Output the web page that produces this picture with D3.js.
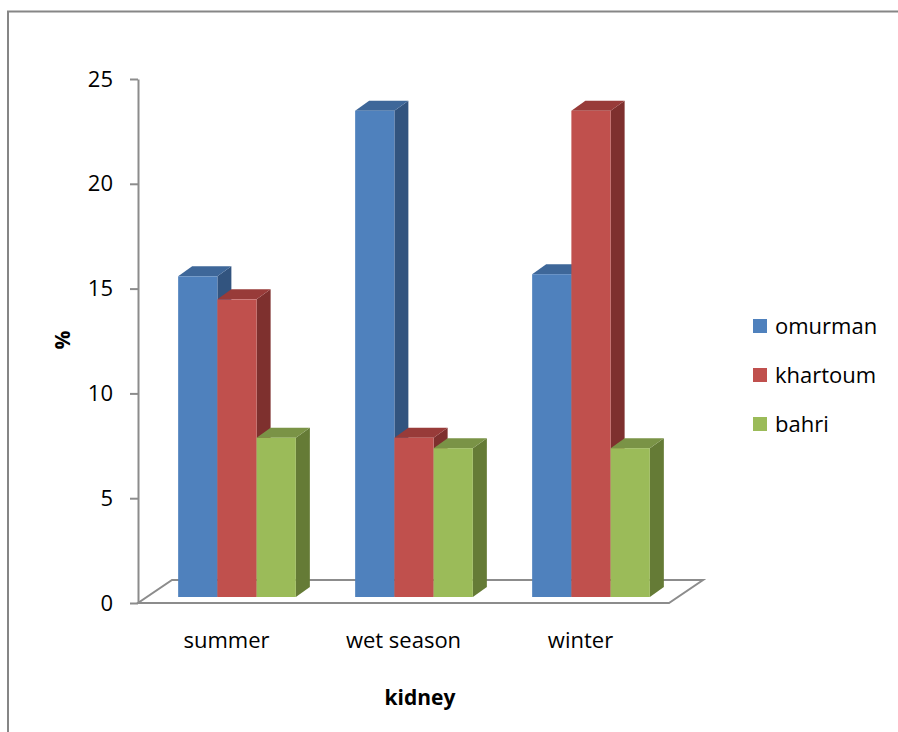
<!DOCTYPE html>
<html>
<head>
<meta charset="utf-8">
<script src="https://cdn.jsdelivr.net/npm/d3@7"></script>
<style>
  html, body { margin: 0; padding: 0; background: #fff; }
  svg { display: block; font-family: "Open Sans", "Liberation Sans", sans-serif; }
</style>
</head>
<body>
<svg id="chart" width="898" height="732"></svg>
<script>
// Seasonal prevalence (%) in kidney samples by location
const categories = ["summer", "wet season", "winter"];
const seriesNames = ["omurman", "khartoum", "bahri"];
const omurman  = [15.3, 23.2, 15.4];
const khartoum = [14.2, 7.6, 23.2];
const bahri    = [7.6, 7.1, 7.1];
const yTicks   = [0, 5, 10, 15, 20, 25];

const seriesValues = [omurman, khartoum, bahri];
const colors = {
  front: ["#4F81BD", "#C0504D", "#9BBB59"],
  top:   ["#3E6799", "#983B39", "#7A9346"],
  side:  ["#32547F", "#7E302E", "#657B36"]
};

const svg = d3.select("#chart");
const W = 898, H = 732;

svg.append("rect").attr("width", W).attr("height", H).attr("fill", "#fff");

// outer frame (top and left edges)
svg.append("path")
  .attr("d", "M8,732 L8,11.5 L898,11.5")
  .attr("fill", "none").attr("stroke", "#868686").attr("stroke-width", 2);

// front plane geometry
const plot = { left: 138, right: 669, bottom: 603, top: 79 };
const floorDepth = { dx: 34, dy: -23 };
const barOffset = { dx: 10.5, dy: -6 };   // bars sit mid-depth on the floor
const barDepth = { dx: 14, dy: -10 };

const y = d3.scaleLinear().domain([0, 25]).range([plot.bottom, plot.top]);
const x0 = d3.scaleBand().domain(categories).range([plot.left, plot.right]).padding(0);
const groupW = x0.bandwidth() * 0.665;
const x1 = d3.scaleBand().domain(seriesNames).range([-groupW / 2, groupW / 2]).padding(0);

// floor
const fl = plot.left, fr = plot.right, fb = plot.bottom;
svg.append("path")
  .attr("d", `M${fl},${fb} L${fr},${fb} L${fr + floorDepth.dx},${fb + floorDepth.dy} L${fl + floorDepth.dx},${fb + floorDepth.dy} Z`)
  .attr("fill", "#fff").attr("stroke", "#8C8C8C").attr("stroke-width", 2);

// value axis
const yAxis = d3.axisLeft(y).tickValues(yTicks).tickSize(8).tickPadding(17).tickSizeOuter(0);
const gy = svg.append("g").attr("transform", `translate(${plot.left},0)`).call(yAxis);
gy.select(".domain").attr("stroke", "#8C8C8C").attr("stroke-width", 2);
gy.selectAll(".tick line").attr("stroke", "#8C8C8C").attr("stroke-width", 2);
gy.selectAll(".tick text")
  .attr("font-family", "'Open Sans', sans-serif")
  .attr("font-size", 22).attr("fill", "#000");

// bars: draw left to right so each front face hides the previous side face
const bars = svg.append("g");
categories.forEach((cat, ci) => {
  seriesNames.forEach((s, si) => {
    const v = seriesValues[si][ci];
    const xl = x0(cat) + x0.bandwidth() / 2 + x1(s) + barOffset.dx;
    const w = x1.bandwidth();
    const yb = y(0) + barOffset.dy;
    const yt = y(v) + barOffset.dy;
    const xr = xl + w;
    const g = bars.append("g");
    // side face
    g.append("path")
      .attr("d", `M${xr},${yb} L${xr + barDepth.dx},${yb + barDepth.dy} L${xr + barDepth.dx},${yt + barDepth.dy} L${xr},${yt} Z`)
      .attr("fill", colors.side[si]);
    // top face
    g.append("path")
      .attr("d", `M${xl},${yt} L${xr},${yt} L${xr + barDepth.dx},${yt + barDepth.dy} L${xl + barDepth.dx},${yt + barDepth.dy} Z`)
      .attr("fill", colors.top[si]);
    // front face
    g.append("rect")
      .attr("x", xl).attr("y", yt).attr("width", w).attr("height", yb - yt)
      .attr("fill", colors.front[si]);
  });
});

// category labels
svg.append("g").selectAll("text")
  .data(categories).join("text")
  .attr("x", d => x0(d) + x0.bandwidth() / 2)
  .attr("y", 648)
  .attr("text-anchor", "middle")
  .attr("font-size", 22).attr("fill", "#000")
  .text(d => d);

// axis titles
svg.append("text")
  .attr("transform", "translate(70,340) rotate(-90)")
  .attr("text-anchor", "middle")
  .attr("font-size", 21).attr("font-weight", "bold").attr("fill", "#000")
  .text("%");

svg.append("text")
  .attr("x", 420).attr("y", 705)
  .attr("text-anchor", "middle")
  .attr("font-size", 21).attr("font-weight", "bold").attr("fill", "#000")
  .text("kidney");

// legend
const legend = svg.append("g");
const legendY = [326, 375, 424];
seriesNames.forEach((s, i) => {
  legend.append("rect")
    .attr("x", 753).attr("y", legendY[i] - 7)
    .attr("width", 14).attr("height", 14)
    .attr("fill", colors.front[i]);
  legend.append("text")
    .attr("x", 775).attr("y", legendY[i])
    .attr("dy", "0.35em")
    .attr("font-size", 22).attr("fill", "#000")
    .text(s);
});
</script>
</body>
</html>
